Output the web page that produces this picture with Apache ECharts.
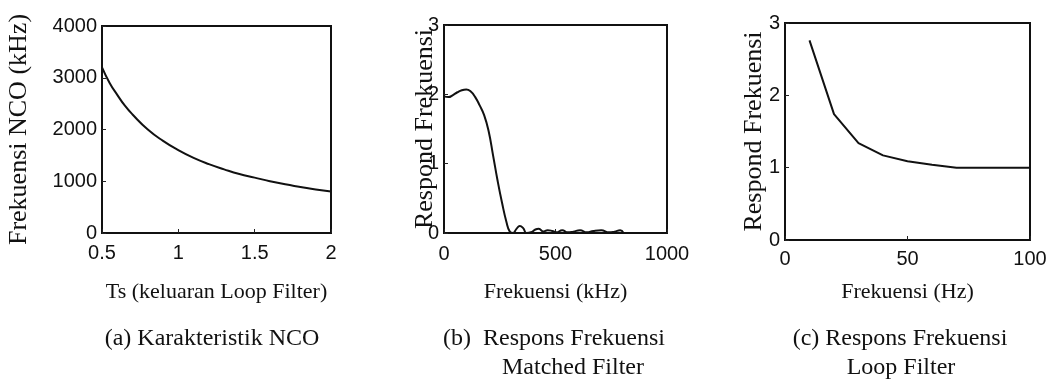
<!DOCTYPE html>
<html>
<head>
<meta charset="utf-8">
<title>Karakteristik NCO, Matched Filter, Loop Filter</title>
<script src="https://cdn.jsdelivr.net/npm/echarts@6/dist/echarts.min.js"></script>
<style>
  html, body { margin: 0; padding: 0; background: #fff; }
  #chart { width: 1058px; height: 391px; }
</style>
</head>
<body>
<div id="chart"></div>
<script>
// (a) Karakteristik NCO
var ncoTs   = [0.5, 0.55, 0.6, 0.65, 0.7, 0.8, 0.9, 1.0, 1.1, 1.2, 1.3, 1.4, 1.5, 1.6, 1.7, 1.8, 1.9, 2.0];
var ncoFreq = [3200, 2900, 2670, 2460, 2290, 2000, 1780, 1600, 1450, 1330, 1230, 1140, 1070, 1000, 940, 890, 840, 800];

// (b) Respons Frekuensi Matched Filter
var mfFreq = [0, 20, 40, 60, 80, 100, 120, 140, 160, 180, 200, 220, 240, 260, 280, 295, 310, 325, 340, 355, 370,
              390, 410, 425, 445, 465, 485, 505, 530, 555, 580, 610, 640, 670, 705, 740, 765, 790, 805];
var mfResp = [1.97, 1.96, 1.99, 2.03, 2.06, 2.07, 2.04, 1.96, 1.84, 1.70, 1.47, 1.12, 0.76, 0.44, 0.16, 0.02, 0.0, 0.06, 0.10, 0.07, 0.0,
              0.01, 0.05, 0.06, 0.02, 0.04, 0.03, 0.01, 0.04, 0.01, 0.02, 0.04, 0.01, 0.03, 0.04, 0.01, 0.02, 0.04, 0.0];

// (c) Respons Frekuensi Loop Filter
var lfFreq = [10, 20, 30, 40, 50, 60, 70, 80, 90, 100];
var lfResp = [2.76, 1.74, 1.34, 1.17, 1.09, 1.04, 1.0, 1.0, 1.0, 1.0];

// axis ranges / tick steps
var ncoX = [0.5, 2, 0.5],  ncoY = [0, 4000, 1000];
var mfX  = [0, 1000, 500], mfY  = [0, 3, 1];
var lfX  = [0, 100, 50],   lfY  = [0, 3, 1];

function zip(xs, ys) {
  return xs.map(function (x, i) { return [x, ys[i]]; });
}

var tickFont = { fontFamily: 'Liberation Sans', fontSize: 20, color: '#111' };
var nameFont = { fontFamily: 'Liberation Serif', fontSize: 22, color: '#111' };
var yNameFont = { fontFamily: 'Liberation Serif', fontSize: 26, color: '#111' };

// plain numbers, no thousands separator
function plain(v) { return String(v); }

function xAxis(idx, r, name, gap, labelMargin) {
  return {
    type: 'value', gridIndex: idx, min: r[0], max: r[1], interval: r[2],
    name: name, nameLocation: 'middle', nameGap: gap, nameTextStyle: nameFont,
    nameMoveOverlap: false,
    axisLine: { show: false },
    axisTick: { show: true, inside: true, length: 4, lineStyle: { color: '#222' } },
    axisLabel: Object.assign({ margin: labelMargin, formatter: plain }, tickFont),
    splitLine: { show: false }
  };
}
function yAxis(idx, r, name, gap) {
  return {
    type: 'value', gridIndex: idx, min: r[0], max: r[1], interval: r[2],
    name: name, nameLocation: 'middle', nameGap: gap, nameTextStyle: yNameFont,
    nameMoveOverlap: false,
    axisLine: { show: false },
    axisTick: { show: true, inside: true, length: 4, lineStyle: { color: '#222' } },
    axisLabel: Object.assign({ margin: 5, formatter: plain }, tickFont),
    splitLine: { show: false }
  };
}
function line(idx, data, smooth) {
  return {
    type: 'line', xAxisIndex: idx, yAxisIndex: idx, data: data,
    smooth: smooth, showSymbol: false, animation: false,
    lineStyle: { color: '#111', width: 2 }
  };
}
function caption(text, cx, top) {
  return {
    text: text, left: cx, top: top, textAlign: 'center', padding: 0,
    textStyle: { fontFamily: 'Liberation Serif', fontSize: 24, fontWeight: 'normal', color: '#111' }
  };
}

var gridStyle = { show: true, borderColor: '#111', borderWidth: 2, backgroundColor: '#fff' };

var chart = echarts.init(document.getElementById('chart'), null, { renderer: 'canvas' });
chart.setOption({
  backgroundColor: '#fff',
  animation: false,
  title: [
    caption('(a) Karakteristik NCO', 212, 327),
    caption('(b)  Respons Frekuensi', 554, 327),
    caption('Matched Filter', 573, 356),
    caption('(c) Respons Frekuensi', 900, 327),
    caption('Loop Filter', 901, 356)
  ],
  grid: [
    Object.assign({ left: 102, top: 26, width: 229, height: 207 }, gridStyle),
    Object.assign({ left: 444, top: 25, width: 223, height: 208 }, gridStyle),
    Object.assign({ left: 785, top: 23, width: 245, height: 217 }, gridStyle)
  ],
  xAxis: [
    xAxis(0, ncoX, 'Ts (keluaran Loop Filter)', 48, 10),
    xAxis(1, mfX, 'Frekuensi (kHz)', 48, 11),
    xAxis(2, lfX, 'Frekuensi (Hz)', 41, 9)
  ],
  yAxis: [
    yAxis(0, ncoY, 'Frekuensi NCO (kHz)', 70),
    yAxis(1, mfY, 'Respond Frekuensi', 6),
    yAxis(2, lfY, 'Respond Frekuensi', 18)
  ],
  series: [
    line(0, zip(ncoTs, ncoFreq), true),
    line(1, zip(mfFreq, mfResp), true),
    line(2, zip(lfFreq, lfResp), false)
  ]
});
</script>
</body>
</html>
